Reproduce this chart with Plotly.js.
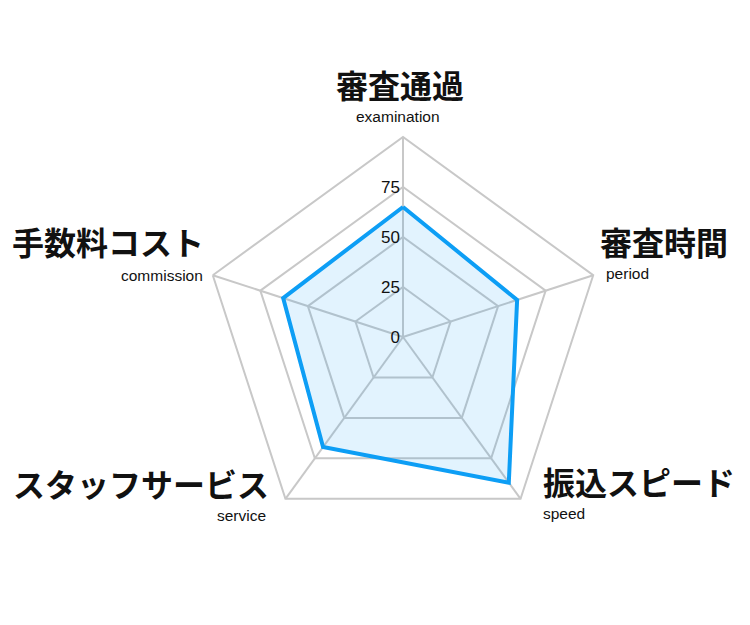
<!DOCTYPE html>
<html>
<head>
<meta charset="utf-8">
<script src="https://cdn.plot.ly/plotly-3.0.1.min.js"></script>
<style>
  html, body { margin: 0; padding: 0; background: #fff; }
  #chart { width: 750px; height: 625px; }
</style>
</head>
<body>
<div id="chart"></div>
<script>
// categories: Japanese label + English subtitle
const labelsJa = ["審査通過", "審査時間", "振込スピード", "スタッフサービス", "手数料コスト"];
const labelsEn = ["examination", "period", "speed", "service", "commission"];
const scores = [65, 60, 90, 68, 63];
const radialTicks = [0, 25, 50, 75];

// plot area (pixels) so the pentagon sits where the original does
const M = { l: 203, r: 147, t: 137, b: 88 };
const W = 750, H = 625;
const plotW = W - M.l - M.r, plotH = H - M.t - M.b;
const toPaperX = (px) => (px - M.l) / plotW;
const toPaperY = (py) => (H - M.b - py) / plotH;

// label placement around the pentagon: [x, y, anchor] for the title and the subtitle
const labelPos = [
  { ja: [400, 84, "center"], en: [398, 116, "center"] },
  { ja: [598, 241, "left"], en: [604, 273, "left"] },
  { ja: [541, 481, "left"], en: [541, 513, "left"] },
  { ja: [271, 483, "right"], en: [268, 515, "right"] },
  { ja: [206, 241, "right"], en: [205, 275, "right"] },
];

const annotations = [];
labelsJa.forEach((ja, i) => {
  const p = labelPos[i];
  annotations.push({
    xref: "paper", yref: "paper",
    x: toPaperX(p.ja[0]), y: toPaperY(p.ja[1]),
    xanchor: p.ja[2], yanchor: "middle",
    text: "<b>" + ja + "</b>",
    showarrow: false,
    font: { family: "Noto Sans CJK JP, sans-serif", size: 32, color: "#111" },
  });
  annotations.push({
    xref: "paper", yref: "paper",
    x: toPaperX(p.en[0]), y: toPaperY(p.en[1]),
    xanchor: p.en[2], yanchor: "middle",
    text: labelsEn[i],
    showarrow: false,
    font: { family: "Liberation Sans, Arial, sans-serif", size: 15.5, color: "#111" },
  });
});

const trace = {
  type: "scatterpolar",
  r: scores.concat([scores[0]]),
  theta: labelsEn.concat([labelsEn[0]]),
  mode: "lines",
  fill: "toself",
  fillcolor: "rgba(20,160,245,0.12)",
  line: { color: "#0d9ef5", width: 4 },
  hoverinfo: "skip",
};

const gridGray = "#c8c8c8";

const layout = {
  width: W,
  height: H,
  paper_bgcolor: "#fff",
  showlegend: false,
  margin: M,
  font: { family: "Noto Sans CJK JP, Liberation Sans, sans-serif", color: "#111" },
  annotations: annotations,
  polar: {
    bgcolor: "rgba(0,0,0,0)",
    gridshape: "linear",
    domain: { x: [0, 1], y: [0, 1] },
    radialaxis: {
      range: [0, 100],
      tickvals: radialTicks,
      ticktext: radialTicks.map(String),
      angle: 90,
      tickangle: 90,
      side: "counterclockwise",
      showline: false,
      ticks: "",
      gridcolor: gridGray,
      gridwidth: 2,
      tickfont: { family: "Liberation Sans, Arial, sans-serif", size: 17, color: "#111" },
      layer: "above traces",
    },
    angularaxis: {
      direction: "clockwise",
      rotation: 90,
      tickmode: "array",
      tickvals: labelsEn,
      showticklabels: false,
      ticks: "",
      showline: true,
      linecolor: gridGray,
      linewidth: 2,
      gridcolor: gridGray,
      gridwidth: 2,
    },
  },
};

Plotly.newPlot("chart", [trace], layout, { displayModeBar: false, staticPlot: true });
</script>
</body>
</html>
